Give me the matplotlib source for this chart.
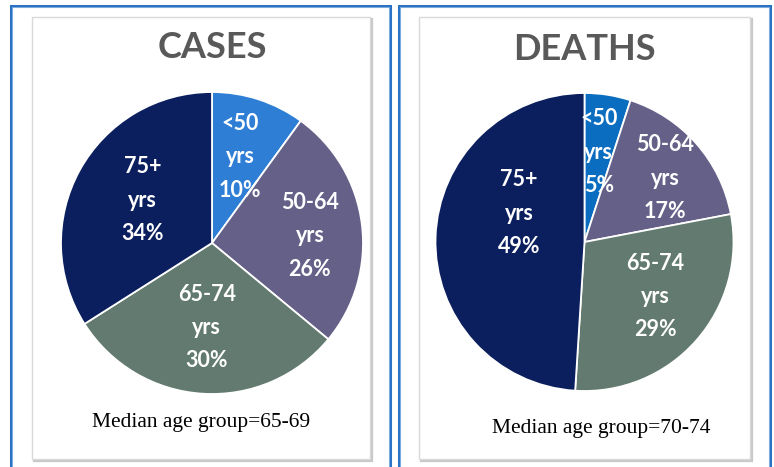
import matplotlib
matplotlib.use("Agg")
import matplotlib.pyplot as plt
from matplotlib.patches import Rectangle
import numpy as np

W, H = 774, 467

# ---- data ----
groups = ["<50", "50-64", "65-74", "75+"]
cases_pct = [10, 26, 30, 34]
deaths_pct = [5, 17, 29, 49]
titles = ["CASES", "DEATHS"]
medians = ["Median age group=65-69", "Median age group=70-74"]

cases_colors = ["#2E7ED6", "#656087", "#627A6F", "#0B1F5E"]
deaths_colors = ["#0A6DC0", "#656087", "#627A6F", "#0B1F5E"]

fig = plt.figure(figsize=(W / 100, H / 100), dpi=100)
fig.patch.set_facecolor("white")


def fx(x):
    return x / W


def fy(y):
    return 1 - y / H


def rect_px(x0, y0, x1, y1, fill=False, face="white", **kw):
    r = Rectangle((fx(x0), fy(y1)), fx(x1) - fx(x0), fy(y0) - fy(y1),
                  transform=fig.transFigure, fill=fill, facecolor=face, zorder=-5, **kw)
    fig.add_artist(r)


# outer blue borders
for (x0, x1) in [(11, 390), (399, 770)]:
    rect_px(x0, 6, x1, 475, edgecolor="#2B73C2", linewidth=2.2)
    rect_px(x0 + 1.2, 7.2, x1 - 1.2, 475, edgecolor="#8DB7E6", linewidth=0.6)

# inner gray boxes with shadow
for (x0, x1) in [(32, 370), (419, 750)]:
    rect_px(x0 + 1.5, 18.5, x1 + 1.5, 460.5, edgecolor="#C8C8C8", linewidth=1.6)
    rect_px(x0, 17, x1, 459, fill=True, edgecolor="#D9D9D9", linewidth=1.0)

panels = [
    dict(vals=cases_pct, colors=cases_colors, cx=212, cy=243, r=151,
         title_y=48, med_x=201, med_y=423,
         lab=[(0.60, 0), (0.65, -3), (0.56, 0), (0.54, -3)]),
    dict(vals=deaths_pct, colors=deaths_colors, cx=584.5, cy=242, r=149,
         title_y=50, med_x=601, med_y=428,
         lab=[(0.61, 0), (0.69, -3), (0.60, 4), (0.48, -22)]),
]

for p, title, med in zip(panels, titles, medians):
    cx, cy, r = p["cx"], p["cy"], p["r"]
    ax = fig.add_axes([fx(cx - r), fy(cy + r), 2 * r / W, 2 * r / H])
    wedges, _ = ax.pie(p["vals"], colors=p["colors"], startangle=90, counterclock=False,
                       wedgeprops=dict(edgecolor="white", linewidth=1.3))
    ax.set_xlim(-1, 1)
    ax.set_ylim(-1, 1)
    ax.axis("off")
    for w, g, v, (rr, da) in zip(wedges, groups, p["vals"], p["lab"]):
        ang = np.deg2rad((w.theta1 + w.theta2) / 2 + da)
        ax.text(rr * np.cos(ang), rr * np.sin(ang), f"{g}\nyrs\n{v}%",
                ha="center", va="center", color="white", fontsize=15.5,
                fontweight="bold", family="Lato", linespacing=1.72)
    fig.text(fx(cx), fy(p["title_y"]), title, ha="center", va="center",
             fontsize=26, fontweight="bold", color="#595959", family="Lato")
    fig.text(fx(p["med_x"]), fy(p["med_y"]), med, ha="center", va="center",
             fontsize=15.5, color="black", family="Liberation Serif")

fig.savefig("out.png", dpi=100, facecolor="white")
